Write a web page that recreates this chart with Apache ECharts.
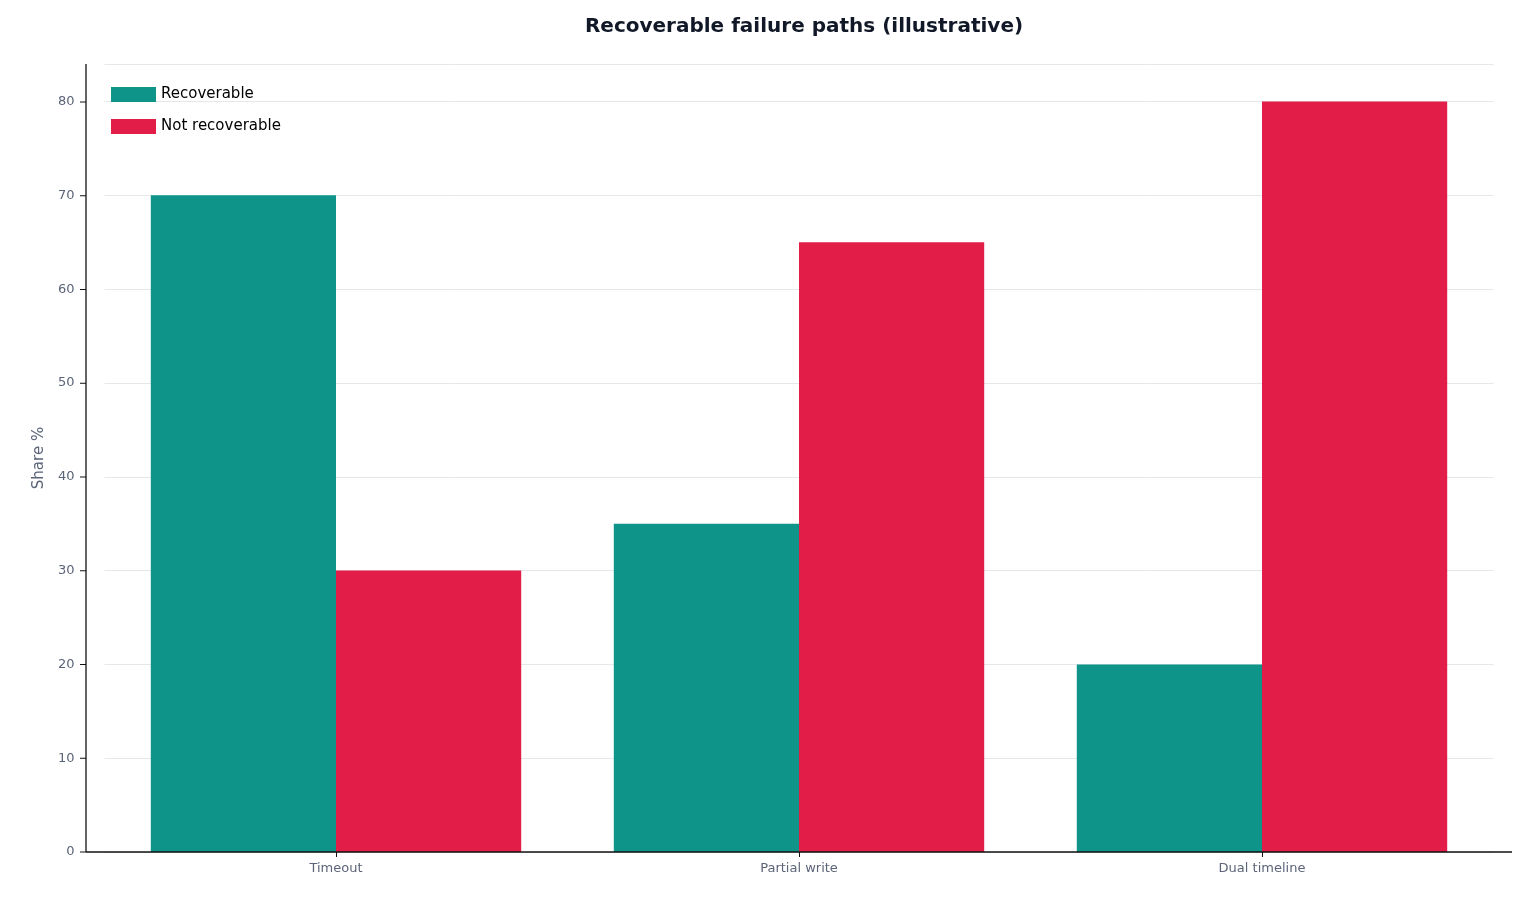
<!DOCTYPE html>
<html><head><meta charset="utf-8">
<script src="https://cdn.jsdelivr.net/npm/echarts@6/dist/echarts.min.js"></script>
<style>html,body{margin:0;padding:0;background:#fff}#c{width:1528px;height:903px}</style>
</head><body><div id="c"></div>
<script>
const categories = ["Timeout", "Partial write", "Dual timeline"];
const recoverable = [70, 35, 20];
const notRecoverable = [30, 65, 80];
const chart = echarts.init(document.getElementById('c'));
const font = "DejaVu Sans";
chart.setOption({
  animation: false,
  textStyle: {fontFamily: font},
  title: {text: "Recoverable failure paths (illustrative)", left: 799, top: 12, textAlign: 'center',
    textStyle: {fontFamily: font, fontSize: 20, fontWeight: 'bold', color: '#111827'}},
  legend: {left: 106, top: 82, orient: 'vertical', itemWidth: 45, itemHeight: 15, itemGap: 17,
    icon: 'rect', textStyle: {fontFamily: font, fontSize: 15, color: '#000'},
    data: ["Recoverable", "Not recoverable"]},
  grid: {left: 104.5, right: 1528 - 1493.5, top: 64, bottom: 903 - 852},
  xAxis: {type: 'category', data: categories,
    axisLine: {show: false},
    axisTick: {show: true, alignWithLabel: true, length: 5, lineStyle: {color: '#111'}},
    axisLabel: {fontFamily: font, fontSize: 13, color: '#5b6478', margin: 10}},
  yAxis: {type: 'value', min: 0, max: 84, interval: 10,
    name: "Share %", nameLocation: 'middle', nameGap: 58,
    nameTextStyle: {fontFamily: font, fontSize: 15, color: '#5b6478'},
    axisLine: {show: false}, axisTick: {show: false},
    axisLabel: {fontFamily: font, fontSize: 13, color: '#5b6478', margin: 30,
      formatter: v => (v % 10 === 0 ? v : '')},
    splitLine: {lineStyle: {color: '#e5e7eb', width: 1}}},
  graphic: [
    {type: 'line', shape: {x1: 86, y1: 852, x2: 1512, y2: 852}, style: {stroke: '#111', lineWidth: 1.3}, z: 100},
    {type: 'line', shape: {x1: 86, y1: 64, x2: 86, y2: 852}, style: {stroke: '#111', lineWidth: 1.3}, z: 100},
    {type: 'group', children: [0,10,20,30,40,50,60,70,80].map(v => ({
      type: 'line', shape: {x1: 80, y1: 852 - v * 9.375, x2: 86, y2: 852 - v * 9.375}, style: {stroke: '#111', lineWidth: 1}}))}
  ],
  series: [
    {name: "Recoverable", type: 'bar', data: recoverable, barGap: '0%', barCategoryGap: '20%', itemStyle: {color: '#0e9488'}},
    {name: "Not recoverable", type: 'bar', data: notRecoverable, itemStyle: {color: '#e11d48'}}
  ]
});
</script></body></html>
